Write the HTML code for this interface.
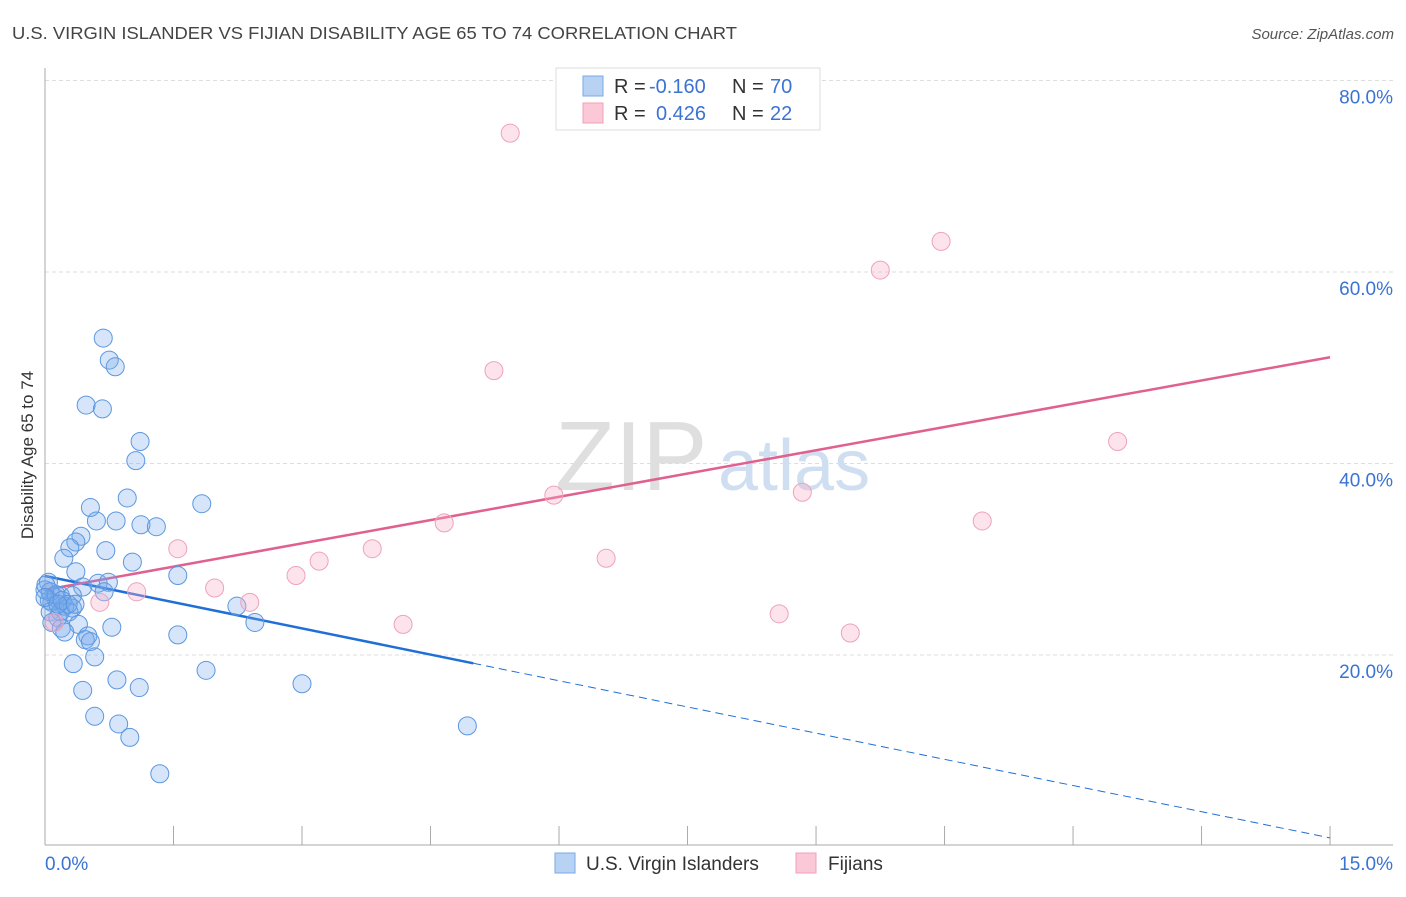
<!DOCTYPE html>
<html><head><meta charset="utf-8"><style>
body{margin:0;background:#fff;font-family:"Liberation Sans",sans-serif;}
svg text{font-family:"Liberation Sans",sans-serif;}
</style></head><body>
<svg id="chart" width="1406" height="892" viewBox="0 0 1406 892" xmlns="http://www.w3.org/2000/svg">
<text x="12" y="39" font-size="17.5" fill="#444" textLength="725" lengthAdjust="spacingAndGlyphs">U.S. VIRGIN ISLANDER VS FIJIAN DISABILITY AGE 65 TO 74 CORRELATION CHART</text>
<text x="1394" y="39" font-size="15" fill="#555" font-style="italic" text-anchor="end">Source: ZipAtlas.com</text>
<g>
<text x="555" y="490" font-size="98" fill="#d8d8d8" font-family="Liberation Serif, serif" opacity="0.8">ZIP</text>
<text x="718" y="490" font-size="72" fill="#c4d8ee" opacity="0.8">atlas</text>
</g>
<g id="grid"></g>
<g id="axes"></g>
<g id="lines"></g>
<g id="pts"></g>
<text transform="translate(33,455) rotate(-90)" text-anchor="middle" font-size="17" fill="#333">Disability Age 65 to 74</text>
<g>
<rect x="556" y="68" width="264" height="62" fill="#fff" stroke="#ddd"/>
<rect x="583" y="76" width="20" height="20" fill="#b8d2f4" stroke="#7aaae8"/>
<rect x="583" y="103" width="20" height="20" fill="#fbc8d8" stroke="#f0a0b8"/>
<text x="614" y="93" font-size="20" fill="#333">R = <tspan x="649" fill="#3b73d3">-0.160</tspan><tspan x="732">N = </tspan><tspan x="770" fill="#3b73d3">70</tspan></text>
<text x="614" y="120" font-size="20" fill="#333">R = <tspan x="656" fill="#3b73d3">0.426</tspan><tspan x="732">N = </tspan><tspan x="770" fill="#3b73d3">22</tspan></text>
</g>
<g>
<rect x="555" y="853" width="20" height="20" fill="#b8d2f4" stroke="#7aaae8"/>
<text x="586" y="870" font-size="19" fill="#333">U.S. Virgin Islanders</text>
<rect x="796" y="853" width="20" height="20" fill="#fbc8d8" stroke="#f0a0b8"/>
<text x="828" y="870" font-size="19" fill="#333">Fijians</text>
</g>
</svg>
<script>
const blueX=[0.68,0.75,0.82,0.48,0.67,1.11,1.06,0.96,1.83,0.53,0.60,0.83,1.12,1.30,0.42,0.36,0.29,0.22,0.71,0.36,1.02,1.55,0.04,0.44,0.62,0.74,0.69,0.18,0.32,2.24,2.45,0.05,0.12,0.08,0.23,0.32,0.06,0.18,0.28,0.15,0.08,0.39,0.78,0.19,0.23,0.50,0.47,0.53,0.58,1.55,0.33,1.88,3.00,0.44,0.84,1.10,0.58,0.86,0.99,1.34,4.93,0.0,0.01,0.06,0.13,0.20,0.27,0.35,0.0,0.15];
const blueY=[53.1,50.8,50.1,46.1,45.7,42.3,40.3,36.4,35.8,35.4,34.0,34.0,33.6,33.4,32.4,31.8,31.2,30.1,30.9,28.7,29.7,28.3,27.6,27.1,27.5,27.6,26.6,26.2,26.2,25.1,23.4,25.7,26.0,25.5,25.1,24.9,24.5,24.5,24.5,23.9,23.4,23.2,22.9,22.8,22.4,22.0,21.6,21.4,19.8,22.1,19.1,18.4,17.0,16.3,17.4,16.6,13.6,12.8,11.4,7.6,12.6,26.8,27.3,26.6,26.3,25.7,25.3,25.3,26.0,25.3];
const pinkX=[5.43,10.46,9.75,5.24,12.52,5.94,8.84,4.66,10.94,1.55,3.82,3.20,6.55,2.93,1.98,1.07,2.39,0.64,4.18,8.57,9.40,0.11];
const pinkY=[74.5,63.2,60.2,49.7,42.3,36.7,37.0,33.8,34.0,31.1,31.1,29.8,30.1,28.3,27.0,26.6,25.5,25.5,23.2,24.3,22.3,23.4];
const yTicks=[20,40,60,80];
const yTickLabels=["20.0%","40.0%","60.0%","80.0%"];
const blueTrend=[28.25,0.9];
const pinkTrend=[26.8,51.1];
const blueSolidEnd=5.0;

const NS="http://www.w3.org/2000/svg";
const X=v=>45+v*85.67, Y=v=>846.5-v*9.575;
function mk(tag,attrs,parent){const e=document.createElementNS(NS,tag);for(const k in attrs)e.setAttribute(k,attrs[k]);parent.appendChild(e);return e;}
const grid=document.getElementById('grid'),axes=document.getElementById('axes'),lines=document.getElementById('lines'),pts=document.getElementById('pts');
yTicks.forEach((t,i)=>{
 const l=mk('line',{x1:45,x2:1393,y1:Y(t),y2:Y(t),stroke:'#ddd','stroke-dasharray':'4,3'},grid);
 
 
 const tx=mk('text',{x:1393,y:Y(t)+23,'font-size':19,fill:'#3b73d3','text-anchor':'end'},axes);
 tx.textContent=yTickLabels[i];
 
 
});
mk('line',{x1:45,x2:45,y1:68,y2:845,stroke:'#aaa'},axes);
mk('line',{x1:45,x2:1393,y1:845,y2:845,stroke:'#aaa'},axes);
for(let i=1;i<=10;i++){const xx=X(i*1.5);const t=mk('line',{x1:xx,x2:xx,y1:826,y2:845,stroke:'#aaa'},axes);
 
 }
let a=mk('text',{x:45,y:870,'font-size':19,fill:'#3b73d3'},axes);a.textContent='0.0%';


a=mk('text',{x:1393,y:870,'font-size':19,fill:'#3b73d3','text-anchor':'end'},axes);a.textContent='15.0%';


function pt(x,y,f,s,name){const c=mk('circle',{cx:X(x),cy:Y(y),r:9,fill:f,stroke:s,'stroke-width':1},pts);
 
 }
blueX.forEach((x,i)=>pt(x,blueY[i],'rgba(120,170,235,0.3)','#5b97e0','blue-point'));
pinkX.forEach((x,i)=>pt(x,pinkY[i],'rgba(248,175,200,0.35)','#eea2bb','pink-point'));
const bAt=x=>blueTrend[0]+(blueTrend[1]-blueTrend[0])*x/15;
const pAt=x=>pinkTrend[0]+(pinkTrend[1]-pinkTrend[0])*x/15;
let l1=mk('line',{x1:X(0),y1:Y(bAt(0)),x2:X(blueSolidEnd),y2:Y(bAt(blueSolidEnd)),stroke:'#1f6fd6','stroke-width':2.5},lines);


let l2=mk('line',{x1:X(blueSolidEnd),y1:Y(bAt(blueSolidEnd)),x2:X(15),y2:Y(bAt(15)),stroke:'#1f6fd6','stroke-width':1,'stroke-dasharray':'8,5'},lines);


let l3=mk('line',{x1:X(0),y1:Y(pAt(0)),x2:X(15),y2:Y(pAt(15)),stroke:'#e0608f','stroke-width':2.5},lines);


</script>
</body></html>
